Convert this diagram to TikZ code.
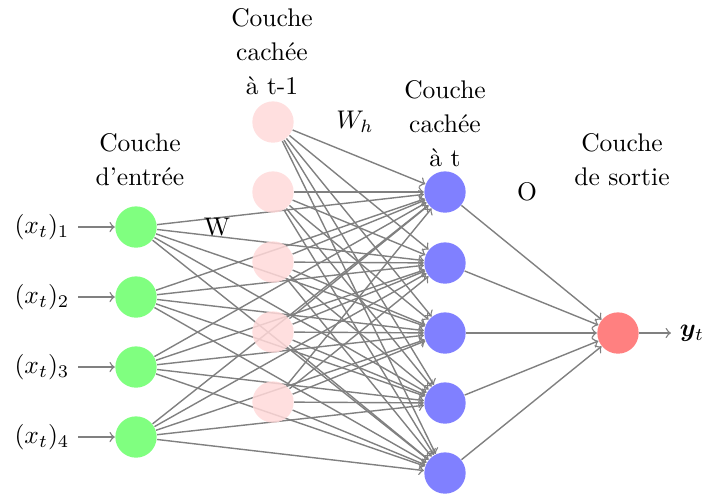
\documentclass[tikz,border=0pt]{standalone}
\usepackage{amsmath,bm}
\pgfdeclarelayer{front}
\pgfsetlayers{main,front}
\begin{document}
\begin{tikzpicture}[x=0.392pt,y=-0.392pt,
  neuron/.style={circle,minimum size=16.2pt,inner sep=0pt},
  innode/.style={neuron,fill=green!50},
  prevnode/.style={neuron,fill=red!15,fill opacity=0.85},
  hidnode/.style={neuron,fill=blue!50},
  outnode/.style={neuron,fill=red!50},
  conn/.style={->,draw=black!50,line width=0.55pt},
  title/.style={align=center,font=\fontsize{10}{13.3}\selectfont},
  wlabel/.style={font=\fontsize{10}{12}\selectfont}]
\useasboundingbox (0,0) rectangle (711,497);

% layers (the t-1 layer sits in front of the links, half see-through)
\foreach \i/\y in {1/227,2/297,3/367,4/437}
  \node[innode] (I\i) at (136,\y) {};
\begin{pgfonlayer}{front}
\foreach \i/\y in {1/122,2/192,3/262,4/332,5/402}
  \node[prevnode] (P\i) at (273,\y) {};
\end{pgfonlayer}
\foreach \i/\y in {1/192,2/263,3/333,4/403,5/473}
  \node[hidnode] (H\i) at (445,\y) {};
\node[outnode] (O) at (618,333) {};

% inputs and output
\foreach \i/\y in {1/227,2/297,3/367,4/437}{
  \node[wlabel] (X\i) at (42,\y) {$(x_t)_{\i}$};
  \draw[conn] (X\i) -- (I\i);
}
\node[wlabel] (Y) at (692,333) {$\bm{y}_t$};
\draw[conn] (O) -- (Y);

% connections
\foreach \i in {1,...,4}
  \foreach \j in {1,...,5}
    \draw[conn] (I\i) -- (H\j);
\foreach \i in {1,...,5}
  \foreach \j in {1,...,5}
    \draw[conn] (P\i) -- (H\j);
\foreach \j in {1,...,5}
  \draw[conn] (H\j) -- (O);

% layer titles
\node[title] (tin) at (140,160) {Couche\\d’entrée};
\node[title] (tprev) at (272,52) {Couche\\cachée\\à t-1};
\node[title] (thid) at (445,124) {Couche\\cachée\\à t};
\node[title] (tout) at (622,160) {Couche\\de sortie};

% weight labels
\node[wlabel] (lw) at (217,227) {W};
\node[wlabel] (lwh) at (355,122) {$W_h$};
\node[wlabel] (lo) at (527,192) {O};
\end{tikzpicture}
\end{document}
